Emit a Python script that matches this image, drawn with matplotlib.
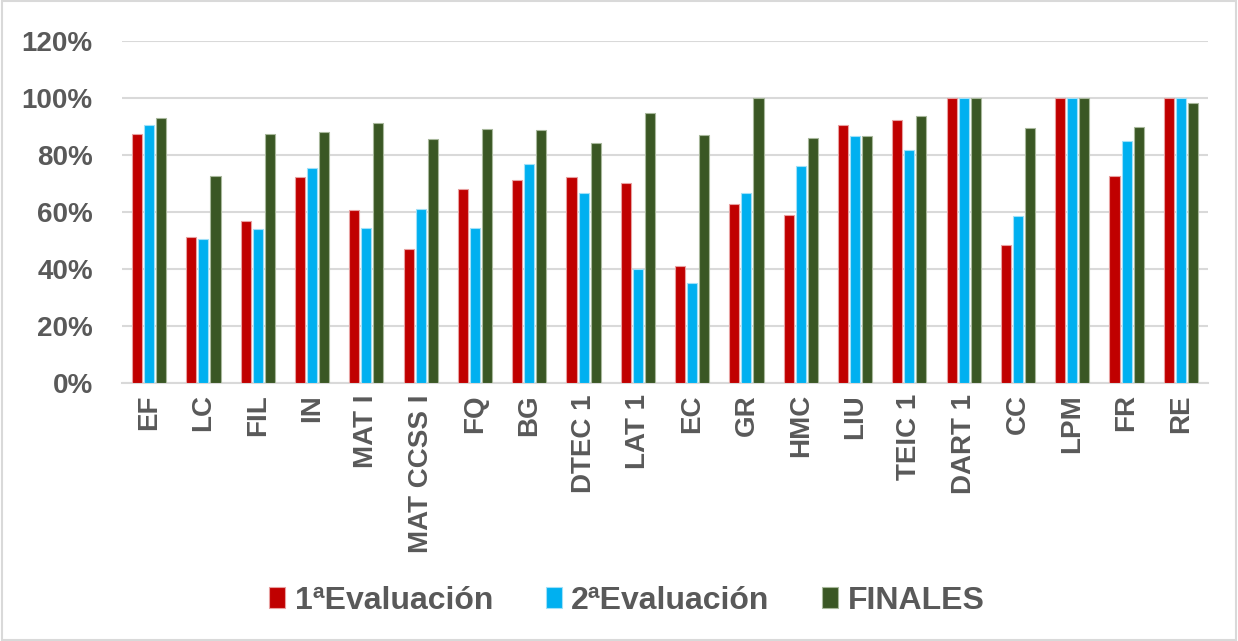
import matplotlib.pyplot as plt
import numpy as np
from matplotlib.patches import Rectangle

plt.rcParams['font.family'] = ['Liberation Sans', 'DejaVu Sans']

asignaturas = ['EF', 'LC', 'FIL', 'IN', 'MAT I', 'MAT CCSS I', 'FQ', 'BG', 'DTEC 1', 'LAT 1',
               'EC', 'GR', 'HMC', 'LIU', 'TEIC 1', 'DART 1', 'CC', 'LPM', 'FR', 'RE']
eval1 = [87.3, 51.4, 56.7, 72.3, 60.8, 47.0, 68.0, 71.2, 72.3, 70.1,
         41.1, 62.7, 58.9, 90.4, 92.3, 100, 48.3, 100, 72.5, 100]
eval2 = [90.6, 50.6, 54.2, 75.3, 54.4, 61.0, 54.4, 77.0, 66.7, 40.1,
         35.0, 66.7, 76.1, 86.8, 81.9, 100, 58.7, 100, 85.0, 100]
finales = [93.0, 72.5, 87.3, 88.0, 91.2, 85.7, 89.2, 88.9, 84.3, 94.6,
           87.1, 100, 86.1, 86.6, 93.7, 100, 89.4, 100, 89.7, 98.3]

series = [('1ªEvaluación', eval1, '#C00000', '#e8a0a0'),
          ('2ªEvaluación', eval2, '#00B0F0', '#a0e0f8'),
          ('FINALES', finales, '#3A5724', '#a8b89c')]

gris = '#595959'
fig = plt.figure(figsize=(12.38, 6.41), dpi=100)
ax = fig.add_axes([122 / 1238, 1 - 383 / 641, (1208 - 122) / 1238, (383 - 41) / 641])

x = np.arange(len(asignaturas))
w = 0.185
step = 0.222
for i, (nombre, vals, col, borde) in enumerate(series):
    ax.bar(x + (i - 1) * step, vals, w, color=col, edgecolor=borde, linewidth=0.8, label=nombre, zorder=3)

ax.set_xlim(-0.5, len(asignaturas) - 0.5)
ax.set_ylim(0, 120)
ax.set_yticks(range(0, 121, 20))
ax.set_yticklabels([f'{v}%' for v in range(0, 121, 20)], fontsize=20, fontweight='bold', color=gris)
ax.set_xticks(x)
ax.set_xticklabels(asignaturas, rotation=90, fontsize=20, fontweight='bold', color=gris)
ax.tick_params(axis='y', length=0, pad=21)
ax.tick_params(axis='x', length=0, pad=8)
ax.grid(axis='y', color='#d9d9d9', linewidth=1.5, zorder=0)
for s in ['top', 'right', 'left']:
    ax.spines[s].set_visible(False)
ax.spines['bottom'].set_color('#d9d9d9')
ax.spines['bottom'].set_linewidth(1.5)

fig.legend(loc='center', bbox_to_anchor=(0.5 + 8 / 1238, 1 - 601 / 641), ncol=3, frameon=False,
           prop={'size': 23, 'weight': 'bold'}, labelcolor=gris, handlelength=0.5,
           handleheight=0.62, handletextpad=0.3, columnspacing=1.65)

fig.patches.append(Rectangle((0.002, 0.002), 0.996, 0.996, transform=fig.transFigure,
                             fill=False, edgecolor='#d9d9d9', linewidth=1.5))

plt.savefig('out.png', dpi=100)
